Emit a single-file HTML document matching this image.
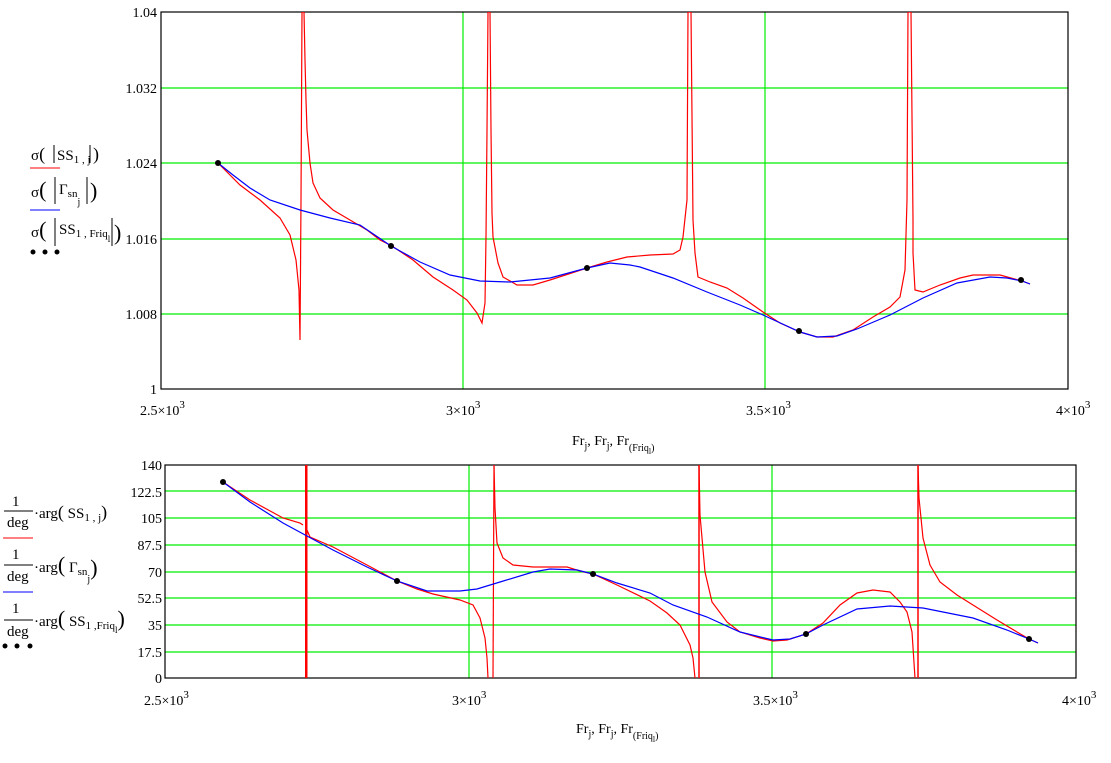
<!DOCTYPE html>
<html><head><meta charset="utf-8"><style>
body{margin:0;background:#fff;}
svg text{font-family:"Liberation Serif",serif;fill:#000;}
</style></head><body>
<svg width="1111" height="758" xmlns="http://www.w3.org/2000/svg">
<!-- TOP PLOT -->
<g stroke="#00ee00" stroke-width="1.2">
<line x1="161" y1="314" x2="1068" y2="314"/><line x1="161" y1="239" x2="1068" y2="239"/>
<line x1="161" y1="163" x2="1068" y2="163"/><line x1="161" y1="88" x2="1068" y2="88"/>
<line x1="463" y1="12" x2="463" y2="389"/><line x1="765" y1="12" x2="765" y2="389"/>
</g>
<rect x="161" y="12" width="907" height="377" fill="none" stroke="#000" stroke-width="1.2"/>
<g font-size="14" text-anchor="end">
<text x="157" y="17">1.04</text><text x="157" y="93">1.032</text><text x="157" y="168">1.024</text>
<text x="157" y="244">1.016</text><text x="157" y="319">1.008</text><text x="157" y="394">1</text>
</g>
<g font-size="14">
<text x="140" y="415">2.5×10<tspan dy="-7" font-size="11">3</tspan></text>
<text x="446" y="415">3×10<tspan dy="-7" font-size="11">3</tspan></text>
<text x="746" y="415">3.5×10<tspan dy="-7" font-size="11">3</tspan></text>
<text x="1056" y="415">4×10<tspan dy="-7" font-size="11">3</tspan></text>
<text x="572" y="445">Fr<tspan dy="4" font-size="10">j</tspan><tspan dy="-4">, Fr</tspan><tspan dy="4" font-size="10">j</tspan><tspan dy="-4">, Fr</tspan><tspan dy="6" font-size="10">(Friq</tspan><tspan dy="3" font-size="8">l</tspan><tspan dy="-3" font-size="10">)</tspan></text>
</g>
<g clip-path="url(#c1)">
<clipPath id="c1"><rect x="161" y="12" width="907" height="377"/></clipPath>
<polyline fill="none" stroke="#f00" stroke-width="1.2" points="218,163 240,185 260,200 280,218 290,235 296,260 299,290 300,340 301,200 302,12 304,12 305,60 306,100 307,130 310,163 313,183 320,198 333,210 350,220 367,230 380,240 392,246 413,260 433,277 453,290 467,300 477,313 482,323 485,303 486,237 487,130 488,12 490,12 491,130 492,213 493,237 498,263 503,277 517,285 533,285 550,280 587,268 607,262 627,257 650,255 673,254 680,250 683,237 687,200 688,12 691,12 693,220 695,253 698,277 710,282 727,288 743,298 763,312 780,323 800,332 817,337 833,337 853,330 873,317 890,307 900,297 905,270 907,200 908,12 911,12 913,220 913,253 915,290 923,292 940,285 960,278 973,275 1000,275 1022,281 1030,284"/>
<polyline fill="none" stroke="#00f" stroke-width="1.2" points="218,163 233,175 250,188 270,200 300,210 330,218 360,225 391,246 420,262 450,275 480,281 510,282 550,278 587,268 610,263 630,265 640,267 673,278 707,292 740,305 763,315 800,332 817,337 837,336 857,329 890,315 923,298 957,283 990,277 1007,278 1022,281 1030,284"/>
</g>
<g fill="#000"><circle cx="218" cy="163" r="3"/><circle cx="391" cy="246" r="3"/><circle cx="587" cy="268" r="3"/><circle cx="799" cy="331" r="3"/><circle cx="1021" cy="280" r="3"/></g>
<!-- top legend -->
<g font-size="15">
<text x="31" y="160">σ<tspan font-size="18">(</tspan></text>
<line x1="54" y1="145" x2="54" y2="163" stroke="#000"/>
<text x="57" y="160">SS<tspan font-size="11" dy="3">1 , j</tspan></text>
<line x1="90" y1="145" x2="90" y2="163" stroke="#000"/>
<text x="93" y="160" font-size="18">)</text>
<line x1="30" y1="168" x2="60" y2="168" stroke="#f00"/>
<text x="31" y="197">σ<tspan font-size="22">(</tspan></text>
<line x1="55" y1="177" x2="55" y2="204" stroke="#000"/>
<text x="59" y="194">Γ<tspan font-size="11" dy="3">sn</tspan><tspan font-size="10" dy="8">j</tspan></text>
<line x1="87" y1="177" x2="87" y2="204" stroke="#000"/>
<text x="90" y="198" font-size="22">)</text>
<line x1="30" y1="210" x2="60" y2="210" stroke="#00f"/>
<text x="31" y="237">σ<tspan font-size="22">(</tspan></text>
<line x1="55" y1="218" x2="55" y2="246" stroke="#000"/>
<text x="59" y="234">SS<tspan font-size="11" dy="3">1 , Friq</tspan><tspan font-size="9" dy="5">l</tspan></text>
<line x1="112" y1="218" x2="112" y2="246" stroke="#000"/>
<text x="114" y="240" font-size="22">)</text>
</g>
<g fill="#000"><circle cx="33" cy="252" r="2.5"/><circle cx="45" cy="252" r="2.5"/><circle cx="57" cy="252" r="2.5"/></g>

<!-- BOTTOM PLOT -->
<g stroke="#00ee00" stroke-width="1.2">
<line x1="165" y1="491" x2="1076" y2="491"/><line x1="165" y1="518" x2="1076" y2="518"/>
<line x1="165" y1="545" x2="1076" y2="545"/><line x1="165" y1="572" x2="1076" y2="572"/>
<line x1="165" y1="598" x2="1076" y2="598"/><line x1="165" y1="625" x2="1076" y2="625"/>
<line x1="165" y1="652" x2="1076" y2="652"/>
<line x1="469" y1="465" x2="469" y2="678"/><line x1="772" y1="465" x2="772" y2="678"/>
</g>
<rect x="165" y="465" width="911" height="213" fill="none" stroke="#000" stroke-width="1.2"/>
<g font-size="14" text-anchor="end">
<text x="162" y="470">140</text><text x="162" y="497">122.5</text><text x="162" y="523">105</text>
<text x="162" y="550">87.5</text><text x="162" y="577">70</text><text x="162" y="603">52.5</text>
<text x="162" y="630">35</text><text x="162" y="657">17.5</text><text x="162" y="683">0</text>
</g>
<g font-size="14">
<text x="144" y="705">2.5×10<tspan dy="-7" font-size="11">3</tspan></text>
<text x="452" y="705">3×10<tspan dy="-7" font-size="11">3</tspan></text>
<text x="753" y="705">3.5×10<tspan dy="-7" font-size="11">3</tspan></text>
<text x="1062" y="705">4×10<tspan dy="-7" font-size="11">3</tspan></text>
<text x="576" y="733">Fr<tspan dy="4" font-size="10">j</tspan><tspan dy="-4">, Fr</tspan><tspan dy="4" font-size="10">j</tspan><tspan dy="-4">, Fr</tspan><tspan dy="6" font-size="10">(Friq</tspan><tspan dy="3" font-size="8">l</tspan><tspan dy="-3" font-size="10">)</tspan></text>
</g>
<polyline fill="none" stroke="#f00" stroke-width="1.2" points="223,482 250,500 283,518 300,523 303,525"/>
<rect x="305" y="465" width="2.5" height="213" fill="#f00"/>
<polyline fill="none" stroke="#f00" stroke-width="1.2" points="307,530 310,537 333,547 367,565 397,581 417,589 433,594 460,600 473,605 480,618 485,638 487,658 488,678"/>
<line x1="493" y1="678" x2="494" y2="465" stroke="#f00" stroke-width="1.2"/>
<polyline fill="none" stroke="#f00" stroke-width="1.2" points="494,465 495,508 497,543 503,558 513,565 533,567 567,567 580,571 593,574 617,585 650,601 660,608 667,613 680,625 690,645 693,658 695,678"/>
<line x1="699" y1="678" x2="699" y2="465" stroke="#f00" stroke-width="1.5"/>
<polyline fill="none" stroke="#f00" stroke-width="1.2" points="699,465 700,515 705,572 712,602 727,622 740,632 760,638 773,641 787,640 806,634 823,623 840,605 857,593 873,590 890,592 900,602 907,612 912,632 915,678"/>
<line x1="918" y1="678" x2="918" y2="465" stroke="#f00" stroke-width="1.5"/>
<polyline fill="none" stroke="#f00" stroke-width="1.2" points="918,465 919,498 923,538 930,565 940,582 957,595 973,605 997,620 1017,632 1029,639 1038,643"/>
<polyline fill="none" stroke="#00f" stroke-width="1.2" points="223,482 250,502 283,523 307,536 333,550 367,567 397,581 427,591 460,591 477,589 500,582 533,572 550,569 577,570 593,574 617,583 650,593 673,605 707,617 740,632 773,640 790,639 806,634 823,625 857,609 890,606 923,608 973,618 1007,630 1029,639 1038,643"/>
<g fill="#000"><circle cx="223" cy="482" r="3"/><circle cx="397" cy="581" r="3"/><circle cx="593" cy="574" r="3"/><circle cx="806" cy="634" r="3"/><circle cx="1029" cy="639" r="3"/></g>
<!-- bottom legend -->
<g font-size="15">
<text x="12" y="506">1</text><line x1="4" y1="511" x2="33" y2="511" stroke="#000"/><text x="7" y="527">deg</text>
<text x="34" y="518">·arg<tspan font-size="18">(</tspan> SS<tspan font-size="11" dy="3">1 , j</tspan><tspan dy="-3" font-size="18">)</tspan></text>
<line x1="3" y1="538" x2="33" y2="538" stroke="#f00"/>
<text x="12" y="559">1</text><line x1="4" y1="565" x2="33" y2="565" stroke="#000"/><text x="7" y="581">deg</text>
<text x="34" y="572">·arg<tspan font-size="22">(</tspan> Γ<tspan font-size="11" dy="3">sn</tspan><tspan font-size="10" dy="7">j</tspan><tspan dy="-7" font-size="22">)</tspan></text>
<line x1="3" y1="592" x2="33" y2="592" stroke="#00f"/>
<text x="12" y="613">1</text><line x1="4" y1="620" x2="33" y2="620" stroke="#000"/><text x="7" y="636">deg</text>
<text x="34" y="626">·arg<tspan font-size="22">(</tspan> SS<tspan font-size="11" dy="3">1 ,Friq</tspan><tspan font-size="9" dy="4">l</tspan><tspan dy="-7" font-size="22">)</tspan></text>
</g>
<g fill="#000"><circle cx="5" cy="646" r="2.5"/><circle cx="17" cy="646" r="2.5"/><circle cx="30" cy="646" r="2.5"/></g>
</svg>
</body></html>
